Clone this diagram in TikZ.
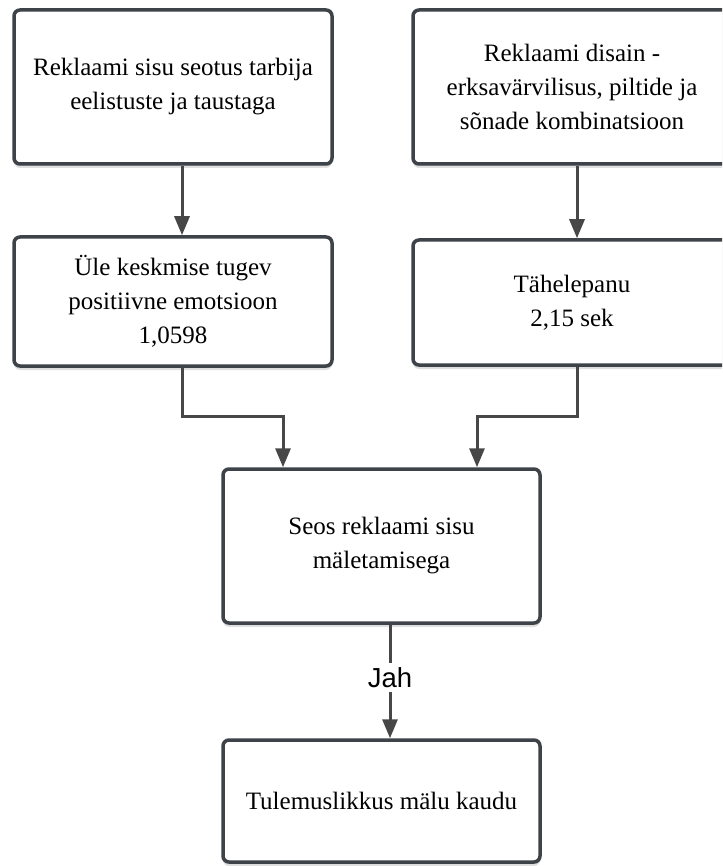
\documentclass[tikz,border=0pt]{standalone}
\usepackage{fontspec}
\setmainfont{Liberation Serif}
\newfontfamily\jahfont{Liberation Sans}
\usetikzlibrary{arrows.meta,shadows}
\definecolor{edgecol}{HTML}{3E4249}
\definecolor{linecol}{HTML}{474747}
\tikzset{
  box/.style={draw=edgecol, line width=3.5pt, rounded corners=6pt, fill=white,
    minimum width=318pt, inner sep=0pt, align=center,
    font=\fontsize{25}{34}\selectfont,
    drop shadow={shadow xshift=0pt, shadow yshift=-4pt, opacity=0.12, fill=black},
    drop shadow={shadow xshift=0pt, shadow yshift=-2pt, opacity=0.10, fill=black}},
  conn/.style={draw=linecol, line width=3pt},
  arr/.style={conn, -{Triangle[length=19pt,width=15pt]}},
}
\begin{document}
\begin{tikzpicture}[x=1pt,y=-1pt]
\useasboundingbox (0,0) rectangle (722,866);
\clip (0,0) rectangle (722,866);
\fill[white] (0,0) rectangle (722,866);
\node[box, minimum height=154pt] (b1) at (173,87) {Reklaami sisu seotus tarbija\\eelistuste ja taustaga};
\node[box, minimum height=154pt] (b2) at (572,87) {Reklaami disain -\\erksavärvilisus, piltide ja\\sõnade kombinatsioon};
\node[box, minimum height=129pt] (b3) at (173,301.5) {Üle keskmise tugev\\positiivne emotsioon\\1,0598};
\node[box, minimum height=125pt] (b4) at (572,302.5) {Tähelepanu\\2,15 sek};
\node[box, minimum width=317pt, minimum height=154pt] (b5) at (381.5,546) {Seos reklaami sisu\\mäletamisega};
\node[box, minimum width=317pt, minimum height=122pt] (b6) at (381.5,801) {Tulemuslikkus mälu kaudu};
\node[font=\jahfont\fontsize{27.5}{30}\selectfont, text height=20pt, text depth=0pt, inner xsep=2pt, inner ysep=4pt] (jah) at (390,677.5) {Jah};
\coordinate (lx) at (182,0);
\coordinate (rx) at (577,0);
\coordinate (ml) at (283,0);
\coordinate (mr) at (477,0);
\coordinate (cx) at (390,0);
\coordinate (hy) at (0,416);
\draw[arr] (b1.south -| lx) -- (b3.north -| lx);
\draw[arr] (b2.south -| rx) -- (b4.north -| rx);
\draw[arr] (b3.south -| lx) -- (lx |- hy) -- (ml |- hy) -- (b5.north -| ml);
\draw[arr] (b4.south -| rx) -- (rx |- hy) -- (mr |- hy) -- (b5.north -| mr);
\draw[conn] (b5.south -| cx) -- (jah.north);
\draw[arr] (jah.south) -- (b6.north -| cx);
\end{tikzpicture}
\end{document}
